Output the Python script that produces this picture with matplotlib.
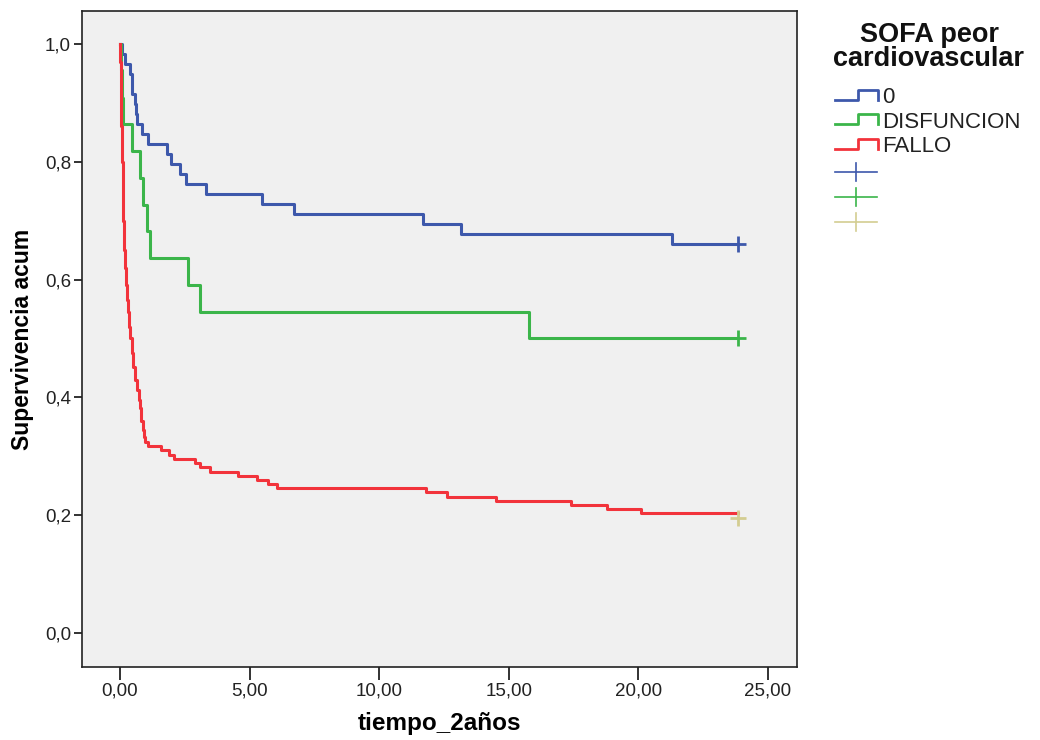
import matplotlib
matplotlib.use("Agg")
import matplotlib.pyplot as plt
from matplotlib.lines import Line2D
from matplotlib.ticker import FuncFormatter

plt.rcParams['font.family'] = ['Liberation Sans', 'DejaVu Sans']

# Kaplan-Meier steps: (time of drop, survival after drop)
t_cero = [0.06, 0.19, 0.39, 0.45, 0.46, 0.58, 0.62, 0.67, 0.84, 1.09,
          1.80, 1.95, 2.31, 2.55, 3.32, 5.47, 6.72, 11.68, 13.15, 21.3]
s_cero = [0.983, 0.966, 0.949, 0.932, 0.915, 0.898, 0.881, 0.864, 0.847, 0.831,
          0.814, 0.797, 0.780, 0.763, 0.746, 0.729, 0.712, 0.695, 0.678, 0.661]

t_disf = [0.02, 0.06, 0.10, 0.48, 0.77, 0.90, 1.03, 1.16, 2.64, 3.09, 15.78]
s_disf = [0.955, 0.909, 0.864, 0.818, 0.773, 0.727, 0.682, 0.636, 0.591, 0.545, 0.500]

t_fallo = [0.01, 0.03, 0.04, 0.07, 0.10, 0.12, 0.16, 0.19, 0.23, 0.27, 0.32,
           0.36, 0.39, 0.45, 0.51, 0.58, 0.64, 0.72, 0.77, 0.82, 0.87, 0.92,
           0.96, 1.07, 1.60, 1.90, 2.10, 2.90, 3.09, 3.47, 4.55, 5.28, 5.70,
           6.05, 11.8, 12.6, 14.5, 17.4, 18.8, 20.1]
s_fallo = [0.97, 0.92, 0.86, 0.80, 0.74, 0.70, 0.65, 0.62, 0.59, 0.565, 0.545,
           0.52, 0.50, 0.475, 0.452, 0.43, 0.413, 0.395, 0.382, 0.36, 0.345, 0.332,
           0.324, 0.317, 0.310, 0.303, 0.296, 0.288, 0.281, 0.274, 0.267, 0.260, 0.253,
           0.246, 0.239, 0.231, 0.224, 0.217, 0.210, 0.203]

t_fin = 23.85
censura = [0.661, 0.500, 0.196]

grupos = ['0', 'DISFUNCION', 'FALLO']
colores = ['#3d58ab', '#3bb54a', '#f2333b']
color_censura = ['#3d58ab', '#3bb54a', '#d3cd91']

W, H = 1040, 740
fig = plt.figure(figsize=(W / 100, H / 100), dpi=100)
ax = fig.add_axes([82 / W, 1 - 667 / H, (797 - 82) / W, (667 - 11) / H])
ax.set_facecolor('#f0f0f0')

for t, s, c in [(t_cero, s_cero, colores[0]), (t_disf, s_disf, colores[1]),
                (t_fallo, s_fallo, colores[2])]:
    xs = [0] + t + [t_fin]
    ys = [1.0] + s + [s[-1]]
    ax.step(xs, ys, where='post', color=c, lw=2.2, zorder=3)

for y, c in zip(censura, color_censura):
    ax.plot([t_fin], [y], marker='+', ms=11, mew=2.0, color=c, zorder=4)

ax.set_xlim(-1.466, 26.12)
ax.set_ylim(-0.0577, 1.056)
ax.set_xticks([0, 5, 10, 15, 20, 25])
ax.set_yticks([0, 0.2, 0.4, 0.6, 0.8, 1.0])
ax.xaxis.set_major_formatter(FuncFormatter(lambda v, p: f"{v:.2f}".replace('.', ',')))
ax.yaxis.set_major_formatter(FuncFormatter(lambda v, p: f"{v:.1f}".replace('.', ',')))
ax.tick_params(axis='x', length=9, width=1.3, pad=2, labelsize=13.5, colors='#222222')
ax.tick_params(axis='y', length=6, width=1.3, pad=2, labelsize=13.5, colors='#222222')
for sp in ax.spines.values():
    sp.set_linewidth(1.2)
    sp.set_color('#222222')

ax.set_xlabel('tiempo_2años', fontsize=17.5, fontweight='bold', labelpad=9)
ax.set_ylabel('Supervivencia acum', fontsize=16.5, fontweight='bold', labelpad=8)


def fx(px):
    return px / W


def fy(py):
    return 1 - py / H


# legend drawn by hand to get the SPSS step icons
fig.text(fx(929), fy(47), 'SOFA peor\ncardiovascular', ha='center', va='center',
         fontsize=19.5, fontweight='bold', linespacing=0.95, color='#111111')
for i, (g, c) in enumerate(zip(grupos, colores)):
    ty = 97.5 + 24.7 * i
    lo, hi = ty + 2, ty - 8
    fig.add_artist(Line2D([fx(835), fx(858), fx(858), fx(878), fx(878)],
                          [fy(lo), fy(lo), fy(hi), fy(hi), fy(lo)],
                          color=c, lw=2.0))
    fig.text(fx(882), fy(ty), g, ha='left', va='center', fontsize=16, color='#222222')
for i, c in enumerate(color_censura):
    py = 171.7 + 25 * i
    fig.add_artist(Line2D([fx(835), fx(877)], [fy(py), fy(py)], color=c, lw=1.2))
    fig.add_artist(Line2D([fx(856), fx(856)], [fy(py - 9), fy(py + 9)], color=c, lw=1.2))

fig.savefig('out.png', dpi=100)
